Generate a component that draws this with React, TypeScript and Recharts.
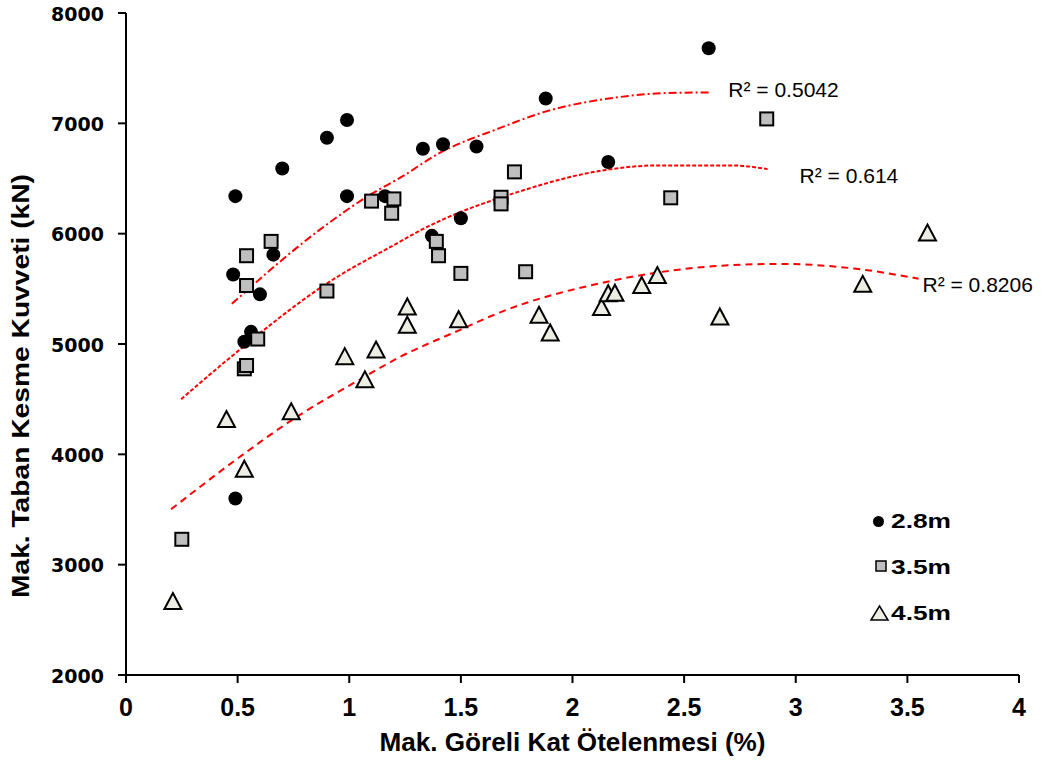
import { ComposedChart, Scatter, Line, XAxis, YAxis } from "recharts";

// x: Mak. Göreli Kat Ötelenmesi (%), y: Mak. Taban Kesme Kuvveti (kN)
const driftTicks = [0, 0.5, 1, 1.5, 2, 2.5, 3, 3.5, 4];
const shearTicks = [2000, 3000, 4000, 5000, 6000, 7000, 8000];

const seriesNames = ["2.8m", "3.5m", "4.5m"];
const r2Labels = ["R² = 0.5042", "R² = 0.614", "R² = 0.8206"];

const drift28 = [0.49, 0.48, 0.70, 0.90, 0.99, 0.99, 0.66, 0.60, 0.56, 0.53, 0.49, 1.16, 1.33, 1.42, 1.57, 1.37, 1.50, 1.88, 2.16, 2.61];
const shear28 = [6340, 5630, 6590, 6870, 7030, 6340, 5810, 5450, 5110, 5020, 3600, 6340, 6770, 6810, 6790, 5980, 6140, 7225, 6650, 7680];

const drift35 = [0.25, 0.53, 0.54, 0.54, 0.54, 0.59, 0.65, 0.90, 1.10, 1.19, 1.20, 1.39, 1.40, 1.50, 1.68, 1.68, 1.74, 1.79, 2.44, 2.87];
const shear35 = [3230, 4775, 4805, 5530, 5800, 5045, 5930, 5480, 6295, 6185, 6315, 5930, 5800, 5640, 6330, 6270, 6560, 5655, 6325, 7040];

const drift45 = [0.21, 0.45, 0.53, 0.74, 0.98, 1.07, 1.12, 1.26, 1.26, 1.49, 1.85, 1.90, 2.13, 2.16, 2.19, 2.31, 2.38, 2.66, 3.30, 3.59];
const shear45 = [2670, 4320, 3870, 4390, 4890, 4680, 4950, 5340, 5175, 5225, 5265, 5105, 5335, 5460, 5465, 5535, 5625, 5250, 5545, 6010];

// trend lines
const trendX28 = [0.474, 0.867, 1.105, 1.225, 1.404, 1.673, 1.882, 2.18, 2.419, 2.613];
const trendY28 = [5364, 6034, 6367, 6503, 6730, 6956, 7108, 7230, 7274, 7280];
const trendX35 = [0.247, 0.463, 0.897, 1.225, 1.314, 1.762, 2.15, 2.374, 2.717, 2.874];
const trendY35 = [4500, 4871, 5545, 5925, 6025, 6382, 6578, 6618, 6618, 6585];
const trendX45 = [0.202, 0.493, 0.762, 1.046, 1.225, 1.494, 1.673, 2.15, 2.628, 2.929, 3.262, 3.55];
const trendY45 = [3502, 3952, 4336, 4676, 4880, 5126, 5285, 5562, 5704, 5726, 5684, 5592];

const zip = (xs: number[], ys: number[]) => xs.map((x, i) => ({ x, y: ys[i] }));

const FONT = "'Liberation Sans', Arial, sans-serif";

const DotShape = (p: any) => <circle cx={p.cx} cy={p.cy} r={7} fill="#000" />;
const BoxShape = (p: any) => (
  <rect x={p.cx - 6.5} y={p.cy - 6.5} width={13} height={13} fill="#BFBFBF" stroke="#000" strokeWidth={2} />
);
const TriShape = (p: any) => (
  <polygon
    points={`${p.cx},${p.cy - 8} ${p.cx + 8.5},${p.cy + 8} ${p.cx - 8.5},${p.cy + 8}`}
    fill="#EEEDE4"
    stroke="#000"
    strokeWidth={2}
  />
);

const YTick = (props: any) => {
  const { x, y, payload } = props;
  return (
    <text x={x - 14} y={y + 7.5} textAnchor="end" fontFamily="'DejaVu Sans', sans-serif" fontWeight="bold" fontSize={19} fill="#000">
      {payload.value}
    </text>
  );
};

const XTick = (props: any) => {
  const { x, y, payload } = props;
  return (
    <text x={x} y={y + 33} textAnchor="middle" fontFamily={FONT} fontWeight="bold" fontSize={25} fill="#000">
      {payload.value}
    </text>
  );
};

const endLabel = (text: string, last: number, dx: number, dy: number) => (props: any) => {
  if (props.index !== last) return <g />;
  return (
    <text x={props.x + dx} y={props.y + dy} fontFamily={FONT} fontSize={21} fill="#000">
      {text}
    </text>
  );
};

// legend block, bottom right of the plot
const LegendBox = () => {
  const rows = [0, 46, 92];
  return (
    <svg width={100} height={130} style={{ position: "absolute", left: 860, top: 500 }}>
      <circle cx={18.5} cy={21.5} r={5.5} fill="#000" />
      <rect x={16} y={61} width={10} height={10} fill="#BFBFBF" stroke="#000" strokeWidth={1.5} />
      <polygon points="19.5,106 28,120 11,120" fill="#EEEDE4" stroke="#000" strokeWidth={1.5} />
      {seriesNames.map((name, i) => (
        <text key={name} x={31} y={28 + rows[i]} fontFamily={FONT} fontWeight="bold" fontSize={20} textLength={60} lengthAdjust="spacingAndGlyphs">
          {name}
        </text>
      ))}
    </svg>
  );
};

export default function App() {
  return (
    <div style={{ position: "absolute", left: 0, top: 0, width: 1045, height: 762, background: "#fff" }}>
      <ComposedChart width={1045} height={762} margin={{ top: 13, right: 26, bottom: 0, left: 0 }}>
        <XAxis
          type="number"
          dataKey="x"
          domain={[0, 4]}
          ticks={driftTicks}
          height={87}
          tickSize={8}
          tickMargin={0}
          axisLine={{ stroke: "#000", strokeWidth: 2 }}
          tickLine={{ stroke: "#000", strokeWidth: 2 }}
          tick={<XTick />}
          interval={0}
          label={{
            content: (p: any) => (
              <text x={p.viewBox.x + p.viewBox.width / 2} y={p.viewBox.y + 76} textAnchor="middle" fontFamily={FONT} fontWeight="bold" fontSize={25} textLength={386} lengthAdjust="spacingAndGlyphs">
                Mak. Göreli Kat Ötelenmesi (%)
              </text>
            ),
          }}
        />
        <YAxis
          type="number"
          dataKey="y"
          domain={[2000, 8000]}
          ticks={shearTicks}
          width={126}
          tickSize={8}
          tickMargin={0}
          axisLine={{ stroke: "#000", strokeWidth: 2 }}
          tickLine={{ stroke: "#000", strokeWidth: 2 }}
          tick={<YTick />}
          interval={0}
          label={{
            content: () => (
              <text x={28.5} y={386} transform="rotate(-90 28.5 386)" textAnchor="middle" fontFamily={FONT} fontWeight="bold" fontSize={23} textLength={424} lengthAdjust="spacingAndGlyphs">
                Mak. Taban Kesme Kuvveti  (kN)
              </text>
            ),
          }}
        />
        <Scatter name={seriesNames[0]} data={zip(drift28, shear28)} shape={DotShape} isAnimationActive={false} />
        <Scatter name={seriesNames[1]} data={zip(drift35, shear35)} shape={BoxShape} isAnimationActive={false} />
        <Scatter name={seriesNames[2]} data={zip(drift45, shear45)} shape={TriShape} isAnimationActive={false} />
        <Line
          data={zip(trendX28, trendY28)}
          dataKey="y"
          type="monotone"
          stroke="#FF0000"
          strokeWidth={2}
          strokeDasharray="8 3 2 3"
          dot={false}
          legendType="none"
          isAnimationActive={false}
          label={endLabel(r2Labels[0], trendX28.length - 1, 19, 5)}
        />
        <Line
          data={zip(trendX35, trendY35)}
          dataKey="y"
          type="monotone"
          stroke="#FF0000"
          strokeWidth={2}
          strokeDasharray="4 2"
          dot={false}
          legendType="none"
          isAnimationActive={false}
          label={endLabel(r2Labels[1], trendX35.length - 1, 32, 14)}
        />
        <Line
          data={zip(trendX45, trendY45)}
          dataKey="y"
          type="monotone"
          stroke="#FF0000"
          strokeWidth={2}
          strokeDasharray="7 5"
          dot={false}
          legendType="none"
          isAnimationActive={false}
          label={endLabel(r2Labels[2], trendX45.length - 1, 4, 13)}
        />
      </ComposedChart>
      <LegendBox />
    </div>
  );
}
